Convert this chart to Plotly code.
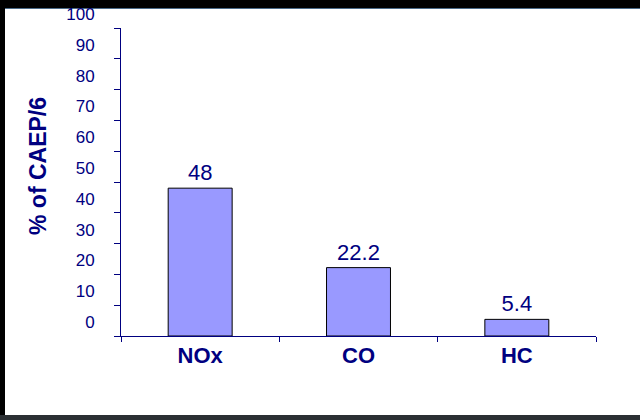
import plotly.graph_objects as go

categories = ["NOx", "CO", "HC"]
values = [48, 22.2, 5.4]
value_labels = ["48", "22.2", "5.4"]
y_ticks = [0, 10, 20, 30, 40, 50, 60, 70, 80, 90, 100]

NAVY = "#000080"
FONT = "Liberation Sans, Arial, sans-serif"

W, H = 640, 420
L, R, T, B = 121, 44, 28, 84
pw, ph = W - L - R, H - T - B

def px_x(p):
    return (p - L) / pw

def px_y(p):
    return (H - B - p) / ph

fig = go.Figure()
fig.add_trace(go.Bar(
    x=categories, y=values,
    text=value_labels, textposition="outside",
    textfont=dict(color=NAVY, size=22, family=FONT),
    marker=dict(color="#9999FF", line=dict(color="#000000", width=1)),
    cliponaxis=False,
    width=0.404,
))

fig.update_layout(
    width=W, height=H,
    margin=dict(l=L, r=R, t=T, b=B, autoexpand=False),
    paper_bgcolor="#000000",
    plot_bgcolor="#FFFFFF",
    showlegend=False,
    font=dict(family=FONT, color=NAVY),
    shapes=[
        dict(type="rect", xref="paper", yref="paper",
             x0=px_x(5), x1=px_x(641), y0=px_y(415), y1=px_y(9),
             fillcolor="#FFFFFF", line=dict(width=0), layer="below"),
        dict(type="line", xref="paper", yref="paper",
             x0=px_x(5), x1=px_x(641), y0=px_y(8.5), y1=px_y(8.5),
             line=dict(color="#4a6a88", width=1), layer="below"),
        dict(type="rect", xref="paper", yref="paper",
             x0=px_x(0), x1=px_x(641), y0=px_y(421), y1=px_y(415),
             fillcolor="#2b2f33", line=dict(width=0), layer="below"),
    ],
    annotations=[
        dict(text="<b>% of CAEP/6</b>", xref="paper", yref="paper",
             x=px_x(38), y=px_y(166), textangle=-90, showarrow=False,
             font=dict(size=23, color=NAVY, family=FONT),
             xanchor="center", yanchor="middle"),
    ],
)

fig.update_xaxes(
    automargin=False,
    showline=True, linecolor=NAVY, linewidth=1,
    ticks="outside", ticklen=5, tickcolor=NAVY, tickwidth=1,
    tickson="boundaries",
    tickfont=dict(size=22, color=NAVY, family=FONT),
    tickprefix="<b>", ticksuffix="</b>",
    showgrid=False, zeroline=False,
    range=[-0.5, 2.5],
)

fig.update_yaxes(
    automargin=False,
    range=[0, 100], tickvals=y_ticks,
    showline=True, linecolor=NAVY, linewidth=1,
    ticks="outside", ticklen=6, tickcolor=NAVY, tickwidth=1,
    tickfont=dict(size=17, color=NAVY, family=FONT),
    ticklabelshift=-14, ticklabelstandoff=16,
    showgrid=False, zeroline=False,
)

fig.write_html("out.html", config={"displayModeBar": False},
               post_script="document.body.style.margin='0';")
